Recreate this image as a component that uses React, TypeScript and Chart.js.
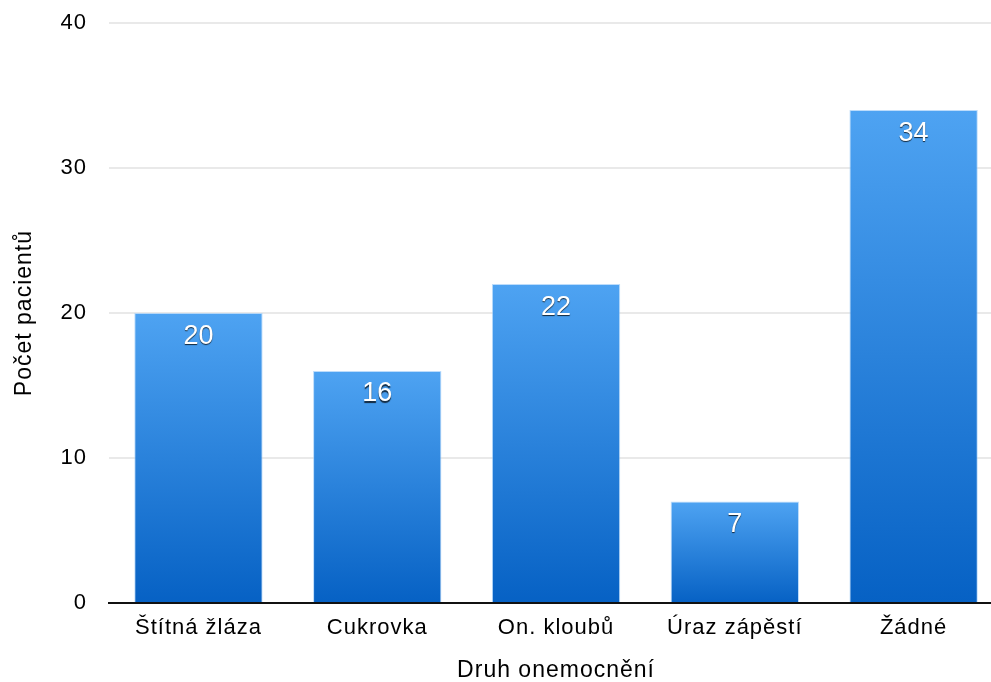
import React, { useEffect, useRef } from "react";
import { Chart, registerables } from "chart.js";

Chart.register(...registerables);

// Počet pacientů podle druhu onemocnění
const categories = ["Štítná žláza", "Cukrovka", "On. kloubů", "Úraz zápěstí", "Žádné"];
const patientCounts = [20, 16, 22, 7, 34];
const yTickValues = [0, 10, 20, 30, 40];

const FONT = '"Liberation Sans", Arial, Helvetica, sans-serif';

// letter spacing for axis text (Chrome canvas supports ctx.letterSpacing)
const spacingPlugin = {
  id: "spacing",
  beforeLayout(chart: any) {
    chart.ctx.letterSpacing = "1px";
  },
  beforeDraw(chart: any) {
    chart.ctx.letterSpacing = "1px";
  },
};

// white value labels with a dark drop shadow inside the top of each bar
const valueLabelPlugin = {
  id: "valueLabels",
  afterDatasetsDraw(chart: any) {
    const ctx = chart.ctx;
    const meta = chart.getDatasetMeta(0);
    ctx.save();
    ctx.letterSpacing = "0px";
    ctx.font = `27px ${FONT}`;
    ctx.textAlign = "center";
    ctx.textBaseline = "middle";
    ctx.fillStyle = "#ffffff";
    ctx.shadowColor = "rgba(0,0,0,0.75)";
    ctx.shadowOffsetX = 0;
    ctx.shadowOffsetY = 1.5;
    ctx.shadowBlur = 1;
    meta.data.forEach((bar: any, i: number) => {
      ctx.fillText(String(patientCounts[i]), bar.x, bar.y + 23);
    });
    ctx.restore();
  },
};

function barGradient(context: any) {
  const chart = context.chart;
  const { ctx, scales } = chart;
  const y = scales && scales.y;
  const v = context.raw;
  if (!y || typeof v !== "number" || !chart.chartArea) return "#2a85e0";
  const top = y.getPixelForValue(v);
  const bottom = y.getPixelForValue(0);
  const g = ctx.createLinearGradient(0, top, 0, bottom);
  g.addColorStop(0, "#4ea3f2");
  g.addColorStop(1, "#0661c4");
  return g;
}

export default function App() {
  const canvasRef = useRef<HTMLCanvasElement | null>(null);

  useEffect(() => {
    if (!canvasRef.current) return;
    const chart = new Chart(canvasRef.current, {
      type: "bar",
      data: {
        labels: categories,
        datasets: [
          {
            data: patientCounts,
            backgroundColor: barGradient,
            borderColor: "rgba(160,205,250,0.7)",
            borderWidth: 1,
            categoryPercentage: 1,
            barPercentage: 0.718,
          },
        ],
      },
      plugins: [spacingPlugin, valueLabelPlugin],
      options: {
        animation: false,
        responsive: false,
        devicePixelRatio: 1,
        layout: { autoPadding: false, padding: { top: 22, left: 1, right: 0, bottom: 0 } },
        plugins: {
          legend: { display: false },
          tooltip: { enabled: false },
        },
        scales: {
          x: {
            grid: { display: false, drawTicks: false },
            border: { display: true, color: "#111111", width: 2 },
            ticks: {
              color: "#000000",
              font: { family: FONT, size: 22, lineHeight: 1 },
              padding: 14,
              maxRotation: 0,
              autoSkip: false,
            },
            title: {
              display: true,
              text: "Druh onemocnění",
              color: "#000000",
              font: { family: FONT, size: 23, lineHeight: 1 },
              padding: { top: 6, bottom: 0 },
            },
          },
          y: {
            min: 0,
            max: 40,
            afterBuildTicks(scale: any) {
              scale.ticks = yTickValues.map((v) => ({ value: v }));
            },
            grid: {
              drawTicks: false,
              color: (c: any) => (c.tick && c.tick.value === 0 ? "rgba(0,0,0,0)" : "#e9e9e9"),
              lineWidth: 2,
            },
            border: { display: false },
            ticks: {
              color: "#000000",
              // single-line labels: a tiny line height keeps them from padding the plot vertically
              font: { family: FONT, size: 22, lineHeight: 0.1 },
              padding: 22,
            },
            title: {
              display: true,
              text: "Počet pacientů",
              color: "#000000",
              font: { family: FONT, size: 23 },
              padding: { top: 10, bottom: 0 },
            },
          },
        },
      },
    } as any);
    return () => chart.destroy();
  }, []);

  return (
    <div
      style={{
        position: "fixed",
        left: 0,
        top: 0,
        width: 991,
        height: 682,
        overflow: "hidden",
        background: "#ffffff",
      }}
    >
      <canvas ref={canvasRef} width={1003} height={682} style={{ display: "block" }} />
    </div>
  );
}
